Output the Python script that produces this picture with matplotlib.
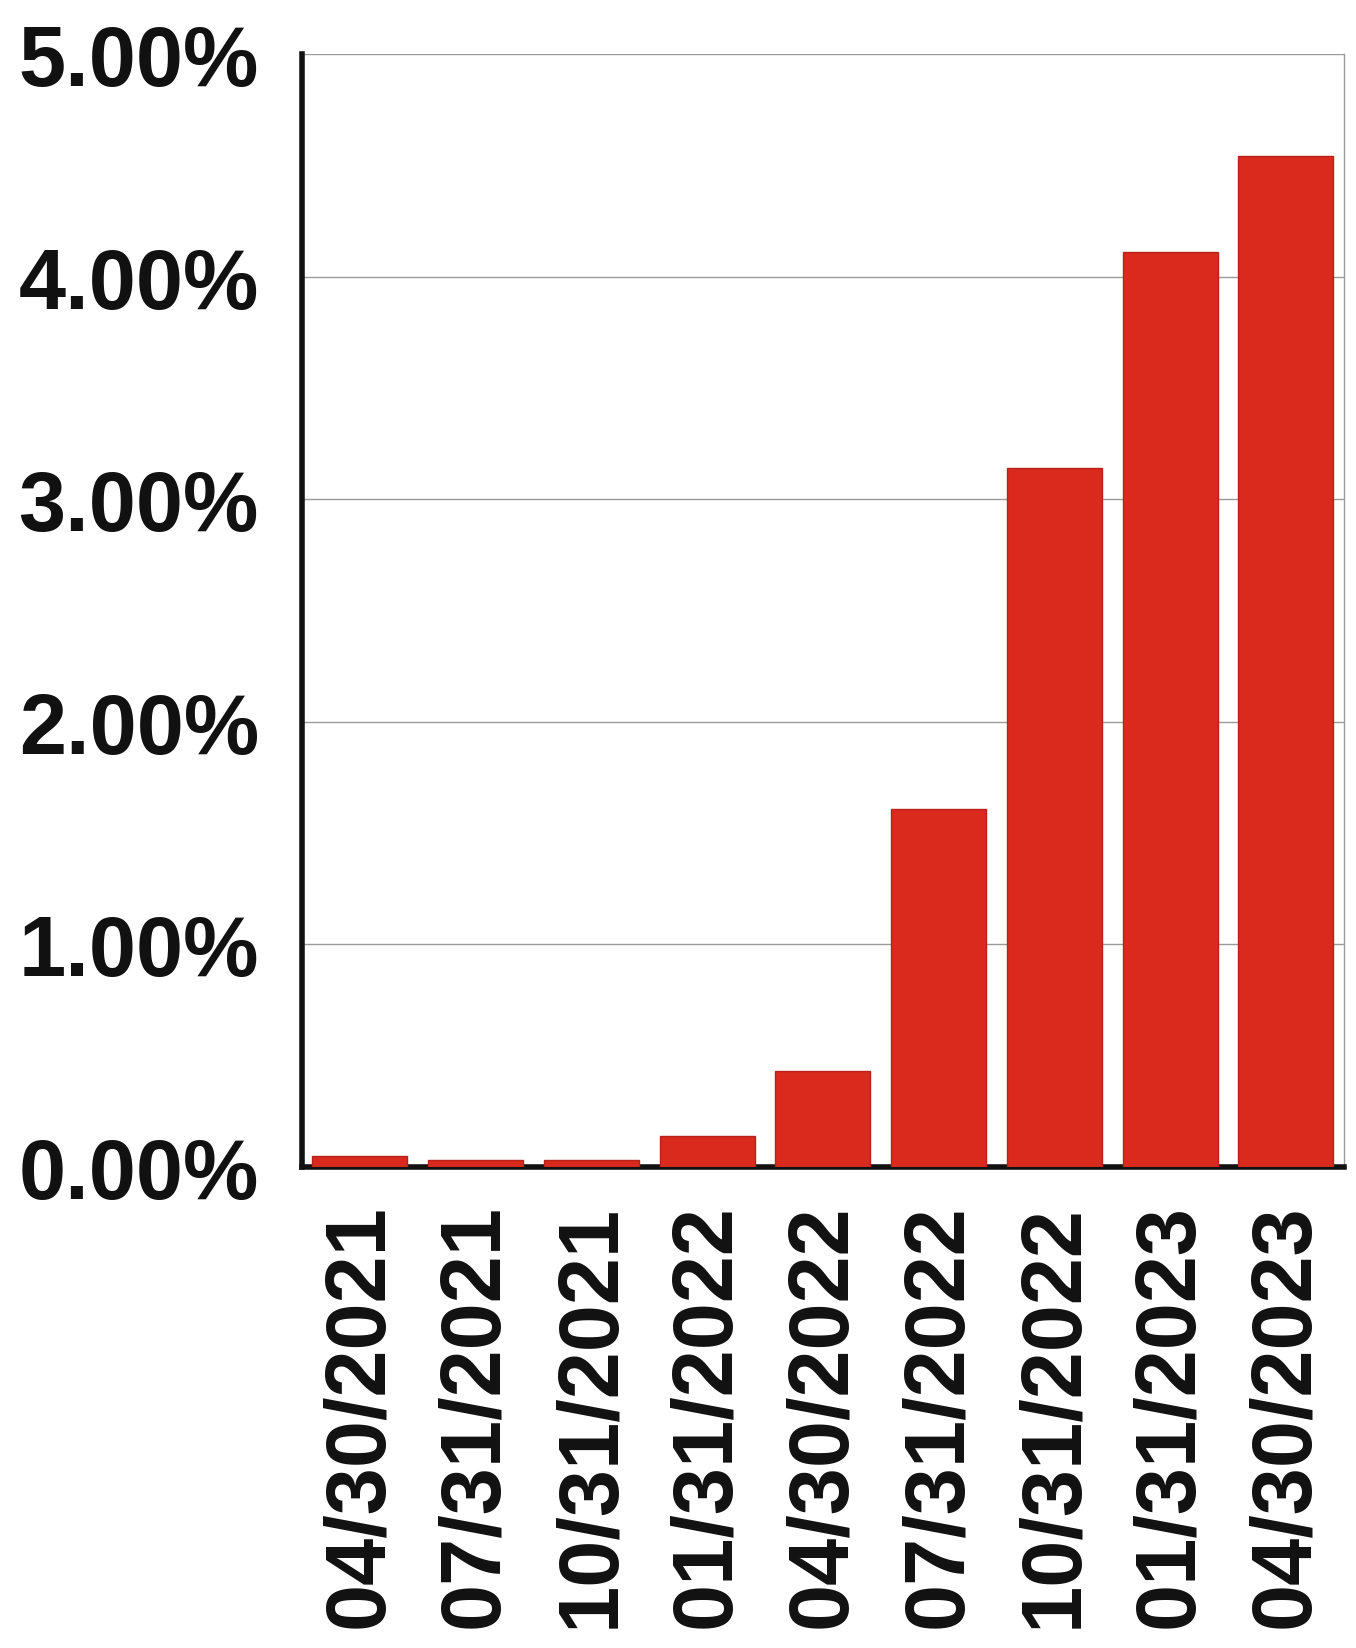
import matplotlib
matplotlib.use("Agg")
import matplotlib.pyplot as plt
from matplotlib.ticker import FuncFormatter

dates = ['04/30/2021', '07/31/2021', '10/31/2021', '01/31/2022', '04/30/2022',
         '07/31/2022', '10/31/2022', '01/31/2023', '04/30/2023']
rates = [0.05, 0.03, 0.03, 0.14, 0.43, 1.61, 3.14, 4.11, 4.54]
yticks = [0, 1, 2, 3, 4, 5]

plt.rcParams['font.family'] = ['Liberation Sans', 'DejaVu Sans']

fig = plt.figure(figsize=(13.56, 16.49), dpi=100)
ax = fig.add_axes([0.2227, 0.2917, 0.7683, 0.6749])

x = range(len(dates))
ax.bar(x, rates, width=0.82, color='#da2a1e', edgecolor='#b8221a', linewidth=1, zorder=3)

ax.set_xlim(-0.5, len(dates) - 0.5)
ax.set_ylim(0, 5)
ax.set_yticks(yticks)
ax.yaxis.set_major_formatter(FuncFormatter(lambda v, p: '%.2f%%' % v))
ax.set_xticks(list(x))
ax.set_xticklabels(dates, rotation=90)

ax.grid(axis='y', color='#9a9a9a', linewidth=1, zorder=0)
ax.tick_params(axis='both', length=0, colors='#111111')
ax.tick_params(axis='y', pad=31, labelsize=61)
ax.tick_params(axis='x', pad=26, labelsize=61)
for lab in ax.get_xticklabels() + ax.get_yticklabels():
    lab.set_fontweight('bold')

ax.spines['left'].set_linewidth(4)
ax.spines['left'].set_color('#111111')
ax.spines['bottom'].set_linewidth(4)
ax.spines['bottom'].set_color('#111111')
ax.spines['right'].set_linewidth(1)
ax.spines['right'].set_color('#9a9a9a')
ax.spines['top'].set_visible(False)

fig.savefig('out.png', dpi=100, facecolor='white')
